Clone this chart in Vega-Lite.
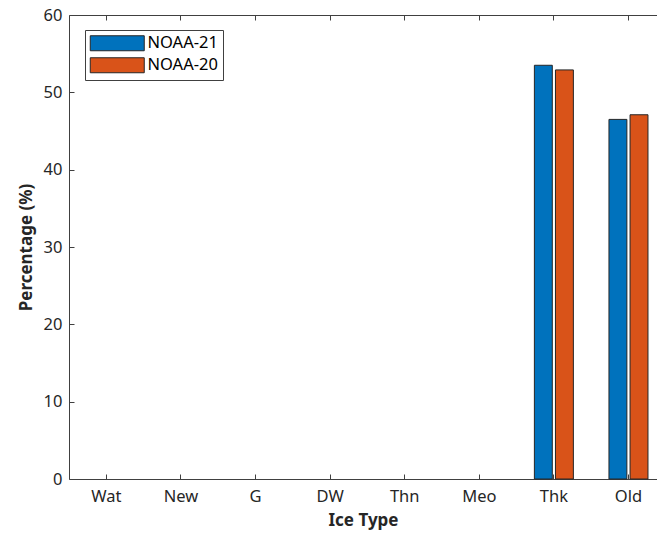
{
  "$schema": "https://vega.github.io/schema/vega-lite/v6.json",
  "autosize": {"type": "none"},
  "width": 588,
  "height": 464,
  "padding": {"left": 69, "top": 15, "right": 0, "bottom": 54},
  "background": "white",
  "config": {
    "view": {"stroke": null},
    "font": "Noto Sans",
    "axis": {
      "domainColor": "#404040",
      "tickColor": "#404040",
      "labelColor": "#262626",
      "titleColor": "#262626",
      "labelFont": "Noto Sans",
      "titleFont": "Noto Sans",
      "labelFontSize": 16.5,
      "titleFontSize": 17,
      "titleFontWeight": "bold",
      "grid": false,
      "tickSize": -5,
      "domainWidth": 1,
      "tickWidth": 1
    }
  },
  "data": {
    "values": [
      {"type": "Wat", "sat": "NOAA-21", "pct": 0},
      {"type": "Wat", "sat": "NOAA-20", "pct": 0},
      {"type": "New", "sat": "NOAA-21", "pct": 0},
      {"type": "New", "sat": "NOAA-20", "pct": 0},
      {"type": "G", "sat": "NOAA-21", "pct": 0},
      {"type": "G", "sat": "NOAA-20", "pct": 0},
      {"type": "DW", "sat": "NOAA-21", "pct": 0},
      {"type": "DW", "sat": "NOAA-20", "pct": 0},
      {"type": "Thn", "sat": "NOAA-21", "pct": 0},
      {"type": "Thn", "sat": "NOAA-20", "pct": 0},
      {"type": "Meo", "sat": "NOAA-21", "pct": 0},
      {"type": "Meo", "sat": "NOAA-20", "pct": 0},
      {"type": "Thk", "sat": "NOAA-21", "pct": 53.5},
      {"type": "Thk", "sat": "NOAA-20", "pct": 52.9},
      {"type": "Old", "sat": "NOAA-21", "pct": 46.5},
      {"type": "Old", "sat": "NOAA-20", "pct": 47.1}
    ]
  },
  "layer": [
    {
      "mark": {"type": "bar", "stroke": "#262626", "strokeWidth": 1, "opacity": 1},
      "encoding": {
        "x": {
          "field": "type", "type": "nominal", "sort": null,
          "scale": {"paddingInner": 0.477, "paddingOuter": 0.18, "align": 0.664},
          "axis": {"title": "Ice Type", "labelAngle": 0, "labelPadding": 14, "titlePadding": 8, "orient": "bottom"}
        },
        "xOffset": {
          "field": "sat", "type": "nominal",
          "scale": {"domain": ["NOAA-21", "NOAA-20"], "paddingInner": 0.15, "paddingOuter": 0}
        },
        "y": {
          "field": "pct", "type": "quantitative",
          "scale": {"domain": [0, 60], "nice": false},
          "axis": {"title": "Percentage (%)", "values": [0, 10, 20, 30, 40, 50, 60], "labelPadding": 12, "titlePadding": 8}
        },
        "strokeOpacity": {"condition": {"test": "datum.pct > 0", "value": 1}, "value": 0},
        "color": {
          "field": "sat", "type": "nominal",
          "scale": {"domain": ["NOAA-21", "NOAA-20"], "range": ["#0072BD", "#D95319"]},
          "legend": {
            "title": null,
            "orient": "none",
            "legendX": 16,
            "legendY": 15,
            "fillColor": "white",
            "strokeColor": "#404040",
            "padding": 5,
            "cornerRadius": 0,
            "symbolType": "M-3.6,-1L3.6,-1L3.6,1L-3.6,1Z",
            "symbolSize": 225,
            "symbolOffset": 19,
            "symbolStrokeColor": "#262626",
            "symbolStrokeWidth": 1,
            "symbolOpacity": 1,
            "symbolStrokeOpacity": 1,
            "labelFontSize": 16.5,
            "labelFont": "Noto Sans",
            "labelColor": "#000000",
            "labelOffset": 22,
            "rowPadding": 2
          }
        }
      }
    },
    {
      "mark": {"type": "tick", "opacity": 0},
      "encoding": {
        "x": {
          "field": "type", "type": "nominal", "sort": null,
          "axis": {"orient": "top", "labels": false, "title": null}
        }
      }
    }
  ],
  "resolve": {"axis": {"x": "independent"}}
}
